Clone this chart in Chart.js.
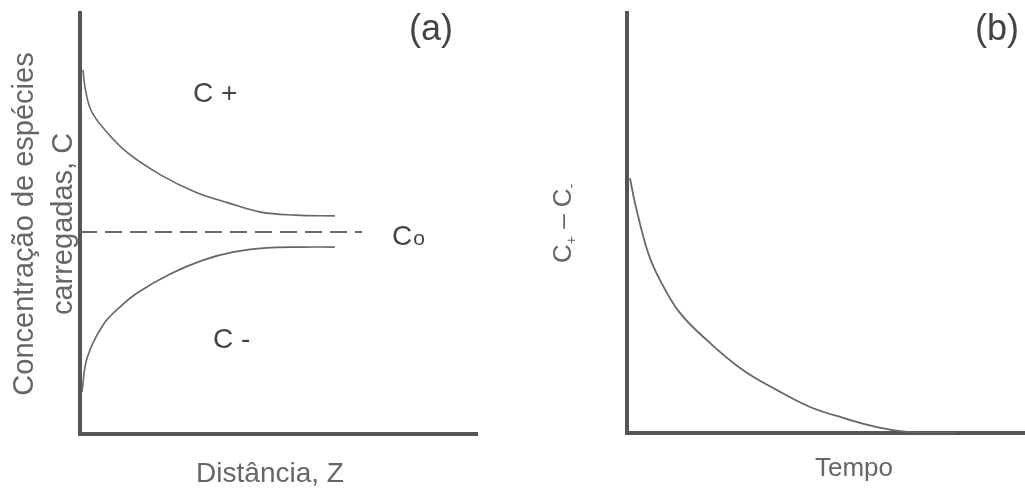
<!DOCTYPE html>
<html lang="pt">
<head>
<meta charset="UTF-8">
<title>Concentração de espécies carregadas</title>
<script src="https://cdn.jsdelivr.net/npm/chart.js"></script>
<style>
  body { margin: 0; background: #fff; }
  #wrap { position: relative; width: 1025px; height: 490px; }
  #chartA { position: absolute; left: 0; top: 0; }
  #chartB { position: absolute; left: 520px; top: 0; }
</style>
</head>
<body>
<div id="wrap">
  <canvas id="chartA" width="520" height="490"></canvas>
  <canvas id="chartB" width="505" height="490"></canvas>
</div>
<script>
// (a) concentração vs distância (escala 0-100 em ambos os eixos)
const plusX   = [0.76, 1.26, 2.77, 6.3, 12.1, 20.4, 29.0, 37.3, 45.6, 54.2, 64.2];
const cPlus   = [86.5, 82.4, 76.9, 72.2, 66.7, 61.5, 57.5, 54.9, 52.7, 52.0, 51.8];
const minusX  = [0.5, 1.8, 5.8, 10.1, 14.4, 22.7, 31.0, 38.5, 47.1, 55.4, 64.2];
const cMinus  = [10.0, 18.1, 25.9, 30.2, 33.5, 38.0, 41.3, 43.2, 44.2, 44.4, 44.4];
const c0X     = [0, 71];
const c0Y     = [48, 48];

// (b) C+ - C- vs tempo
const tempo   = [0.75, 2.0, 5.3, 8.3, 13.3, 20.9, 29.1, 37.7, 46.0, 54.3, 62.8, 71.1, 82.9];
const diffC   = [60.7, 54.8, 42.9, 36.4, 28.6, 21.4, 15.0, 10.2, 6.2, 3.6, 1.4, 0.2, 0];

const FONT = '"Liberation Sans", Arial, sans-serif';
const AXIS = '#555';
const LINE = '#666';

function pts(xs, ys) { return xs.map((x, i) => ({ x: x, y: ys[i] })); }

function baseOptions(yWidth, xHeight, padding) {
  return {
    responsive: false,
    animation: false,
    layout: { padding: padding },
    plugins: { legend: { display: false }, tooltip: { enabled: false } },
    elements: { point: { radius: 0 }, line: { tension: 0.4 } },
    scales: {
      x: {
        type: 'linear', min: 0, max: 100,
        grid: { display: false },
        ticks: { display: false },
        border: { display: true, color: AXIS, width: 4 },
        afterFit: s => { s.height = xHeight; }
      },
      y: {
        type: 'linear', min: 0, max: 100,
        grid: { display: false },
        ticks: { display: false },
        border: { display: true, color: AXIS, width: 4 },
        afterFit: s => { s.width = yWidth; }
      }
    }
  };
}

const labelsA = {
  id: 'labelsA',
  afterDraw(chart) {
    const ctx = chart.ctx;
    ctx.save();
    ctx.fillStyle = '#444';
    ctx.textBaseline = 'alphabetic';
    ctx.font = '36px ' + FONT;
    ctx.textAlign = 'center';
    ctx.fillText('(a)', 431, 40);
    ctx.textAlign = 'left';
    ctx.font = '28px ' + FONT;
    ctx.fillText('C +', 193, 102);
    ctx.fillText('C -', 213, 348);
    ctx.fillText('C', 392, 245);
    const w = ctx.measureText('C').width;
    ctx.font = '21px ' + FONT;
    ctx.fillText('o', 392 + w + 1, 245);

    ctx.fillStyle = '#666';
    ctx.font = '28px ' + FONT;
    ctx.textAlign = 'center';
    ctx.fillText('Distância, Z', 270, 482);

    ctx.font = '29px ' + FONT;
    ctx.textBaseline = 'middle';
    ctx.save();
    ctx.translate(25, 224);
    ctx.rotate(-Math.PI / 2);
    ctx.fillText('Concentração de espécies', 0, 0);
    ctx.restore();
    ctx.save();
    ctx.translate(64, 224);
    ctx.rotate(-Math.PI / 2);
    ctx.fillText('carregadas, C', 0, 0);
    ctx.restore();
    ctx.restore();
  }
};

const labelsB = {
  id: 'labelsB',
  afterDraw(chart) {
    const ctx = chart.ctx;
    ctx.save();
    ctx.fillStyle = '#444';
    ctx.textBaseline = 'alphabetic';
    ctx.textAlign = 'center';
    ctx.font = '36px ' + FONT;
    ctx.fillText('(b)', 477, 40);

    ctx.fillStyle = '#666';
    ctx.font = '26px ' + FONT;
    ctx.fillText('Tempo', 334, 476);

    // C+ - C- rodado
    ctx.translate(51, 263);
    ctx.rotate(-Math.PI / 2);
    ctx.textAlign = 'left';
    let x = 0;
    const big = '26px ' + FONT, small = '14px ' + FONT;
    const parts = [['C', big, 0], ['+', small, 5], [' \u2013 ', big, 0], ['C', big, 0], ['-', small, 5]];
    parts.forEach(p => {
      ctx.font = p[1];
      ctx.fillText(p[0], x, p[2]);
      x += ctx.measureText(p[0]).width;
    });
    ctx.restore();
  }
};

new Chart(document.getElementById('chartA'), {
  type: 'line',
  data: {
    datasets: [
      { data: pts(plusX, cPlus), borderColor: LINE, borderWidth: 1.6, fill: false },
      { data: pts(minusX, cMinus), borderColor: LINE, borderWidth: 1.6, fill: false },
      { data: pts(c0X, c0Y), borderColor: LINE, borderWidth: 2, borderDash: [17, 8], tension: 0, fill: false }
    ]
  },
  options: baseOptions(80, 56, { top: 13, right: 43, left: 0, bottom: 0 }),
  plugins: [labelsA]
});

new Chart(document.getElementById('chartB'), {
  type: 'line',
  data: {
    datasets: [
      { data: pts(tempo, diffC), borderColor: LINE, borderWidth: 1.8, fill: false }
    ]
  },
  options: baseOptions(107, 57, { top: 13, right: 0, left: 0, bottom: 0 }),
  plugins: [labelsB]
});
</script>
</body>
</html>
